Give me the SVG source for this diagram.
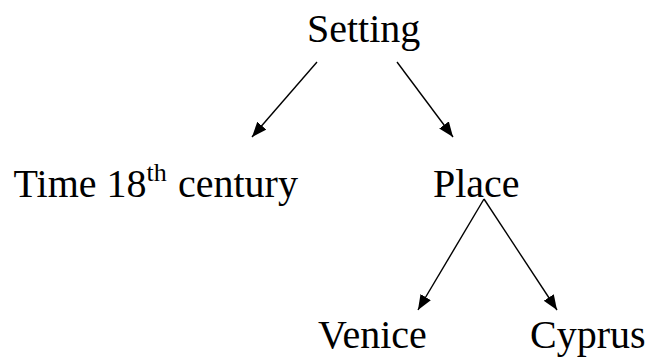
<svg xmlns="http://www.w3.org/2000/svg" width="647" height="362" viewBox="0 0 647 362">
<defs>
<style>
.t{font-family:"Liberation Serif","Times New Roman",serif;font-size:40px;fill:#000}
.c{stroke:#000;stroke-width:1.4;fill:none}
</style>
<marker id="ah" markerUnits="userSpaceOnUse" markerWidth="17" markerHeight="14" refX="15" refY="6" orient="auto">
<path d="M0,0 L15,6 L0,12 z" fill="#000"/>
</marker>
</defs>
<rect width="647" height="362" fill="#fff"/>
<g id="connectors">
<line class="c" x1="317" y1="62" x2="252" y2="137" marker-end="url(#ah)"/>
<line class="c" x1="397" y1="62" x2="453" y2="137" marker-end="url(#ah)"/>
<line class="c" x1="484" y1="199" x2="418" y2="310" marker-end="url(#ah)"/>
<line class="c" x1="484" y1="199" x2="557" y2="310" marker-end="url(#ah)"/>
</g>
<g id="setting"><text class="t" x="307" y="42">Setting</text></g>
<g id="time"><text class="t" x="13.5" y="197">Time 18<tspan font-size="26" dy="-16">th</tspan><tspan x="178" dy="16">century</tspan></text></g>
<g id="place"><text class="t" x="433" y="197">Place</text></g>
<g id="venice"><text class="t" x="318" y="348">Venice</text></g>
<g id="cyprus"><text class="t" x="530" y="348">Cyprus</text></g>
</svg>
